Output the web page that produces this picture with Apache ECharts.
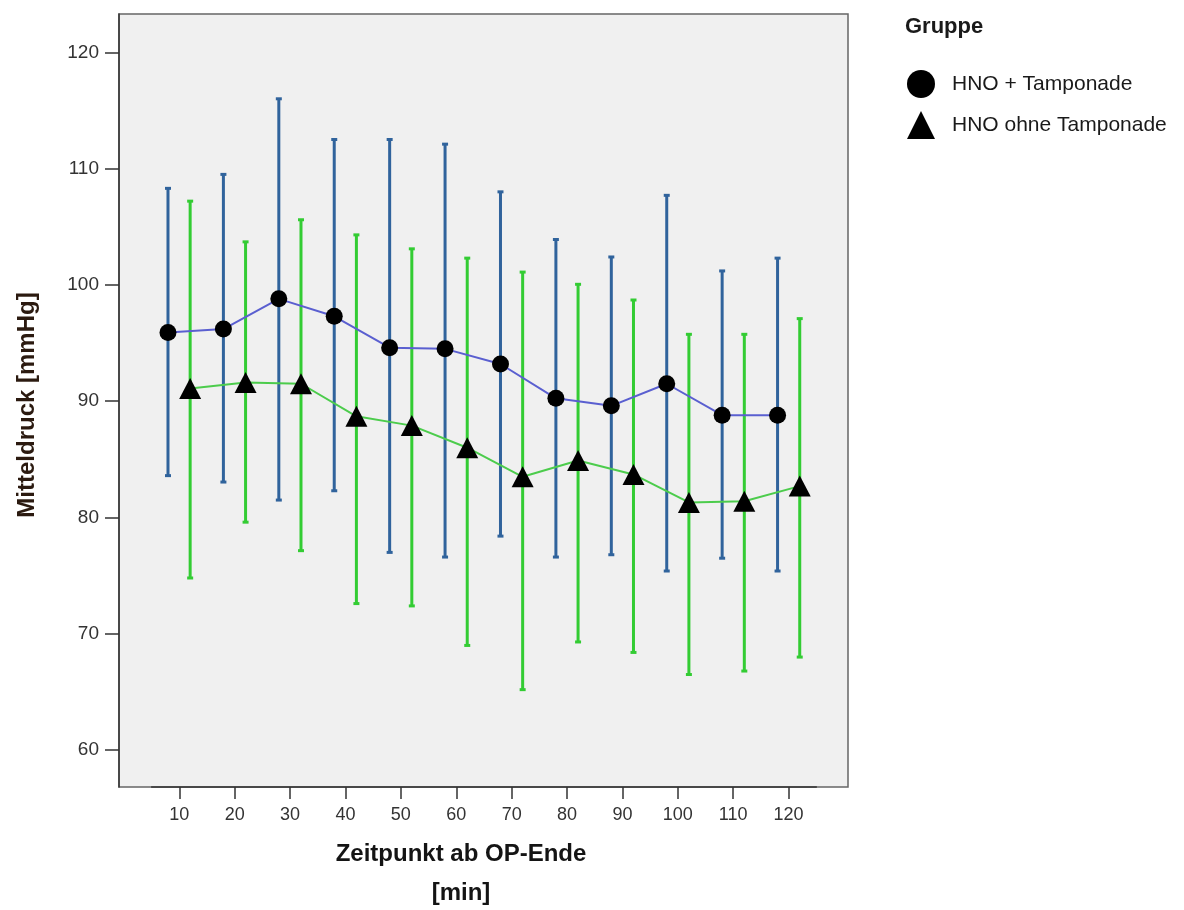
<!DOCTYPE html>
<html>
<head>
<meta charset="utf-8">
<script src="https://cdn.jsdelivr.net/npm/echarts@6/dist/echarts.min.js"></script>
<style>
  html, body { margin: 0; padding: 0; background: #ffffff; }
  #chart { width: 1184px; height: 910px; }
</style>
</head>
<body>
<div id="chart"></div>
<script>
// Zeitpunkte ab OP-Ende [min]
const timepoints = [10, 20, 30, 40, 50, 60, 70, 80, 90, 100, 110, 120];
const yTicks = [60, 70, 80, 90, 100, 110, 120];

// Gruppe "HNO + Tamponade": Mittelwert und Fehlerbalken (unten / oben)
const tamponMean = [95.9, 96.2, 98.8, 97.3, 94.6, 94.5, 93.2, 90.25, 89.6, 91.5, 88.8, 88.8];
const tamponLow  = [83.6, 83.05, 81.5, 82.3, 77.0, 76.6, 78.4, 76.6, 76.8, 75.4, 76.5, 75.4];
const tamponHigh = [108.3, 109.5, 116.0, 112.5, 112.5, 112.1, 108.0, 103.9, 102.4, 107.7, 101.2, 102.3];

// Gruppe "HNO ohne Tamponade"
const ohneMean = [91.1, 91.6, 91.5, 88.7, 87.9, 86.0, 83.5, 84.9, 83.7, 81.3, 81.4, 82.7];
const ohneLow  = [74.8, 79.6, 77.15, 72.6, 72.4, 69.0, 65.2, 69.3, 68.4, 66.5, 66.8, 68.0];
const ohneHigh = [107.2, 103.7, 105.6, 104.3, 103.1, 102.3, 101.1, 100.05, 98.7, 95.75, 95.75, 97.1];

const groupNames = ['HNO + Tamponade', 'HNO ohne Tamponade'];

const FONT = 'Liberation Sans, Arial, sans-serif';
const BLUE_BAR = '#30639c';
const GREEN_BAR = '#33cc33';
const BLUE_LINE = '#5a5fd0';
const GREEN_LINE = '#4ccc4c';
const DODGE = 2; // horizontal offset of the two groups, in minutes

function errorBars(color) {
  return function (params, api) {
    const x = api.value(0);
    const lo = api.coord([x, api.value(1)]);
    const hi = api.coord([x, api.value(2)]);
    const cap = 3;
    const style = { stroke: color, lineWidth: 3 };
    return {
      type: 'group',
      children: [
        { type: 'line', shape: { x1: lo[0], y1: lo[1], x2: hi[0], y2: hi[1] }, style: style },
        { type: 'line', shape: { x1: lo[0] - cap, y1: lo[1], x2: lo[0] + cap, y2: lo[1] }, style: style },
        { type: 'line', shape: { x1: hi[0] - cap, y1: hi[1], x2: hi[0] + cap, y2: hi[1] }, style: style }
      ]
    };
  };
}

const chart = echarts.init(document.getElementById('chart'), null, { renderer: 'canvas' });

chart.setOption({
  animation: false,
  backgroundColor: '#ffffff',
  textStyle: { fontFamily: FONT },
  grid: [
    { left: 119, top: 14, width: 729, height: 773, show: true,
      backgroundColor: '#f0f0f0', borderColor: '#666666', borderWidth: 1.5 },
    { left: 151.6, top: 14, width: 664.7, height: 773, show: false }
  ],
  xAxis: [
    { type: 'value', gridIndex: 0, min: -0.84, max: 130.71,
      axisLine: { show: false }, axisTick: { show: false },
      axisLabel: { show: false }, splitLine: { show: false } },
    { type: 'category', gridIndex: 1, data: timepoints.map(String), boundaryGap: true,
      axisLine: { show: true, onZero: false, lineStyle: { color: '#333333', width: 1.5 } },
      axisTick: { show: true, alignWithLabel: true, length: 12, lineStyle: { color: '#333333', width: 1.5 } },
      axisLabel: { fontSize: 18, color: '#333333', margin: 19, fontFamily: FONT },
      splitLine: { show: false } }
  ],
  yAxis: [
    { type: 'value', gridIndex: 0, min: 56.83, max: 123.29,
      axisLine: { show: true, onZero: false, lineStyle: { color: '#333333', width: 1.5 } },
      axisTick: { show: true, customValues: yTicks, length: 14, lineStyle: { color: '#333333', width: 1.5 } },
      axisLabel: { customValues: yTicks, fontSize: 19, color: '#333333', margin: 20, fontFamily: FONT },
      splitLine: { show: false } },
    { type: 'value', gridIndex: 1, min: 0, max: 1, show: false }
  ],
  legend: {
    orient: 'vertical', left: 902, top: 65,
    itemWidth: 28, itemHeight: 28, itemGap: 13,
    selectedMode: false,
    textStyle: { fontSize: 21, color: '#1a1a1a', fontFamily: FONT, padding: [0, 0, 0, 12] },
    data: [
      { name: groupNames[0], icon: 'circle', itemStyle: { color: '#000000' } },
      { name: groupNames[1], icon: 'triangle', itemStyle: { color: '#000000' } }
    ]
  },
  graphic: [
    { type: 'text', x: 905, y: 27,
      style: { text: 'Gruppe', font: 'bold 22px ' + FONT, fill: '#1a1a1a',
               textAlign: 'left', textVerticalAlign: 'middle' } },
    { type: 'text', x: 461, y: 854,
      style: { text: 'Zeitpunkt ab OP-Ende', font: 'bold 24px ' + FONT, fill: '#141414',
               textAlign: 'center', textVerticalAlign: 'middle' } },
    { type: 'text', x: 461, y: 893,
      style: { text: '[min]', font: 'bold 24px ' + FONT, fill: '#141414',
               textAlign: 'center', textVerticalAlign: 'middle' } },
    { type: 'text', x: 27, y: 405, rotation: Math.PI / 2,
      style: { text: 'Mitteldruck [mmHg]', font: 'bold 24px ' + FONT, fill: '#2b1a10',
               textAlign: 'center', textVerticalAlign: 'middle' } }
  ],
  series: [
    { name: groupNames[0] + ' Fehlerbalken', type: 'custom', xAxisIndex: 0, yAxisIndex: 0, z: 1,
      renderItem: errorBars(BLUE_BAR), encode: { x: 0, y: [1, 2] },
      data: timepoints.map((t, i) => [t - DODGE, tamponLow[i], tamponHigh[i]]) },
    { name: groupNames[1] + ' Fehlerbalken', type: 'custom', xAxisIndex: 0, yAxisIndex: 0, z: 1,
      renderItem: errorBars(GREEN_BAR), encode: { x: 0, y: [1, 2] },
      data: timepoints.map((t, i) => [t + DODGE, ohneLow[i], ohneHigh[i]]) },
    { name: groupNames[0], type: 'line', xAxisIndex: 0, yAxisIndex: 0, z: 3,
      symbol: 'circle', symbolSize: 17,
      itemStyle: { color: '#000000' },
      lineStyle: { color: BLUE_LINE, width: 2 },
      data: timepoints.map((t, i) => [t - DODGE, tamponMean[i]]) },
    { name: groupNames[1], type: 'line', xAxisIndex: 0, yAxisIndex: 0, z: 3,
      symbol: 'triangle', symbolSize: [22, 21],
      itemStyle: { color: '#000000' },
      lineStyle: { color: GREEN_LINE, width: 2 },
      data: timepoints.map((t, i) => [t + DODGE, ohneMean[i]]) }
  ]
});
</script>
</body>
</html>
